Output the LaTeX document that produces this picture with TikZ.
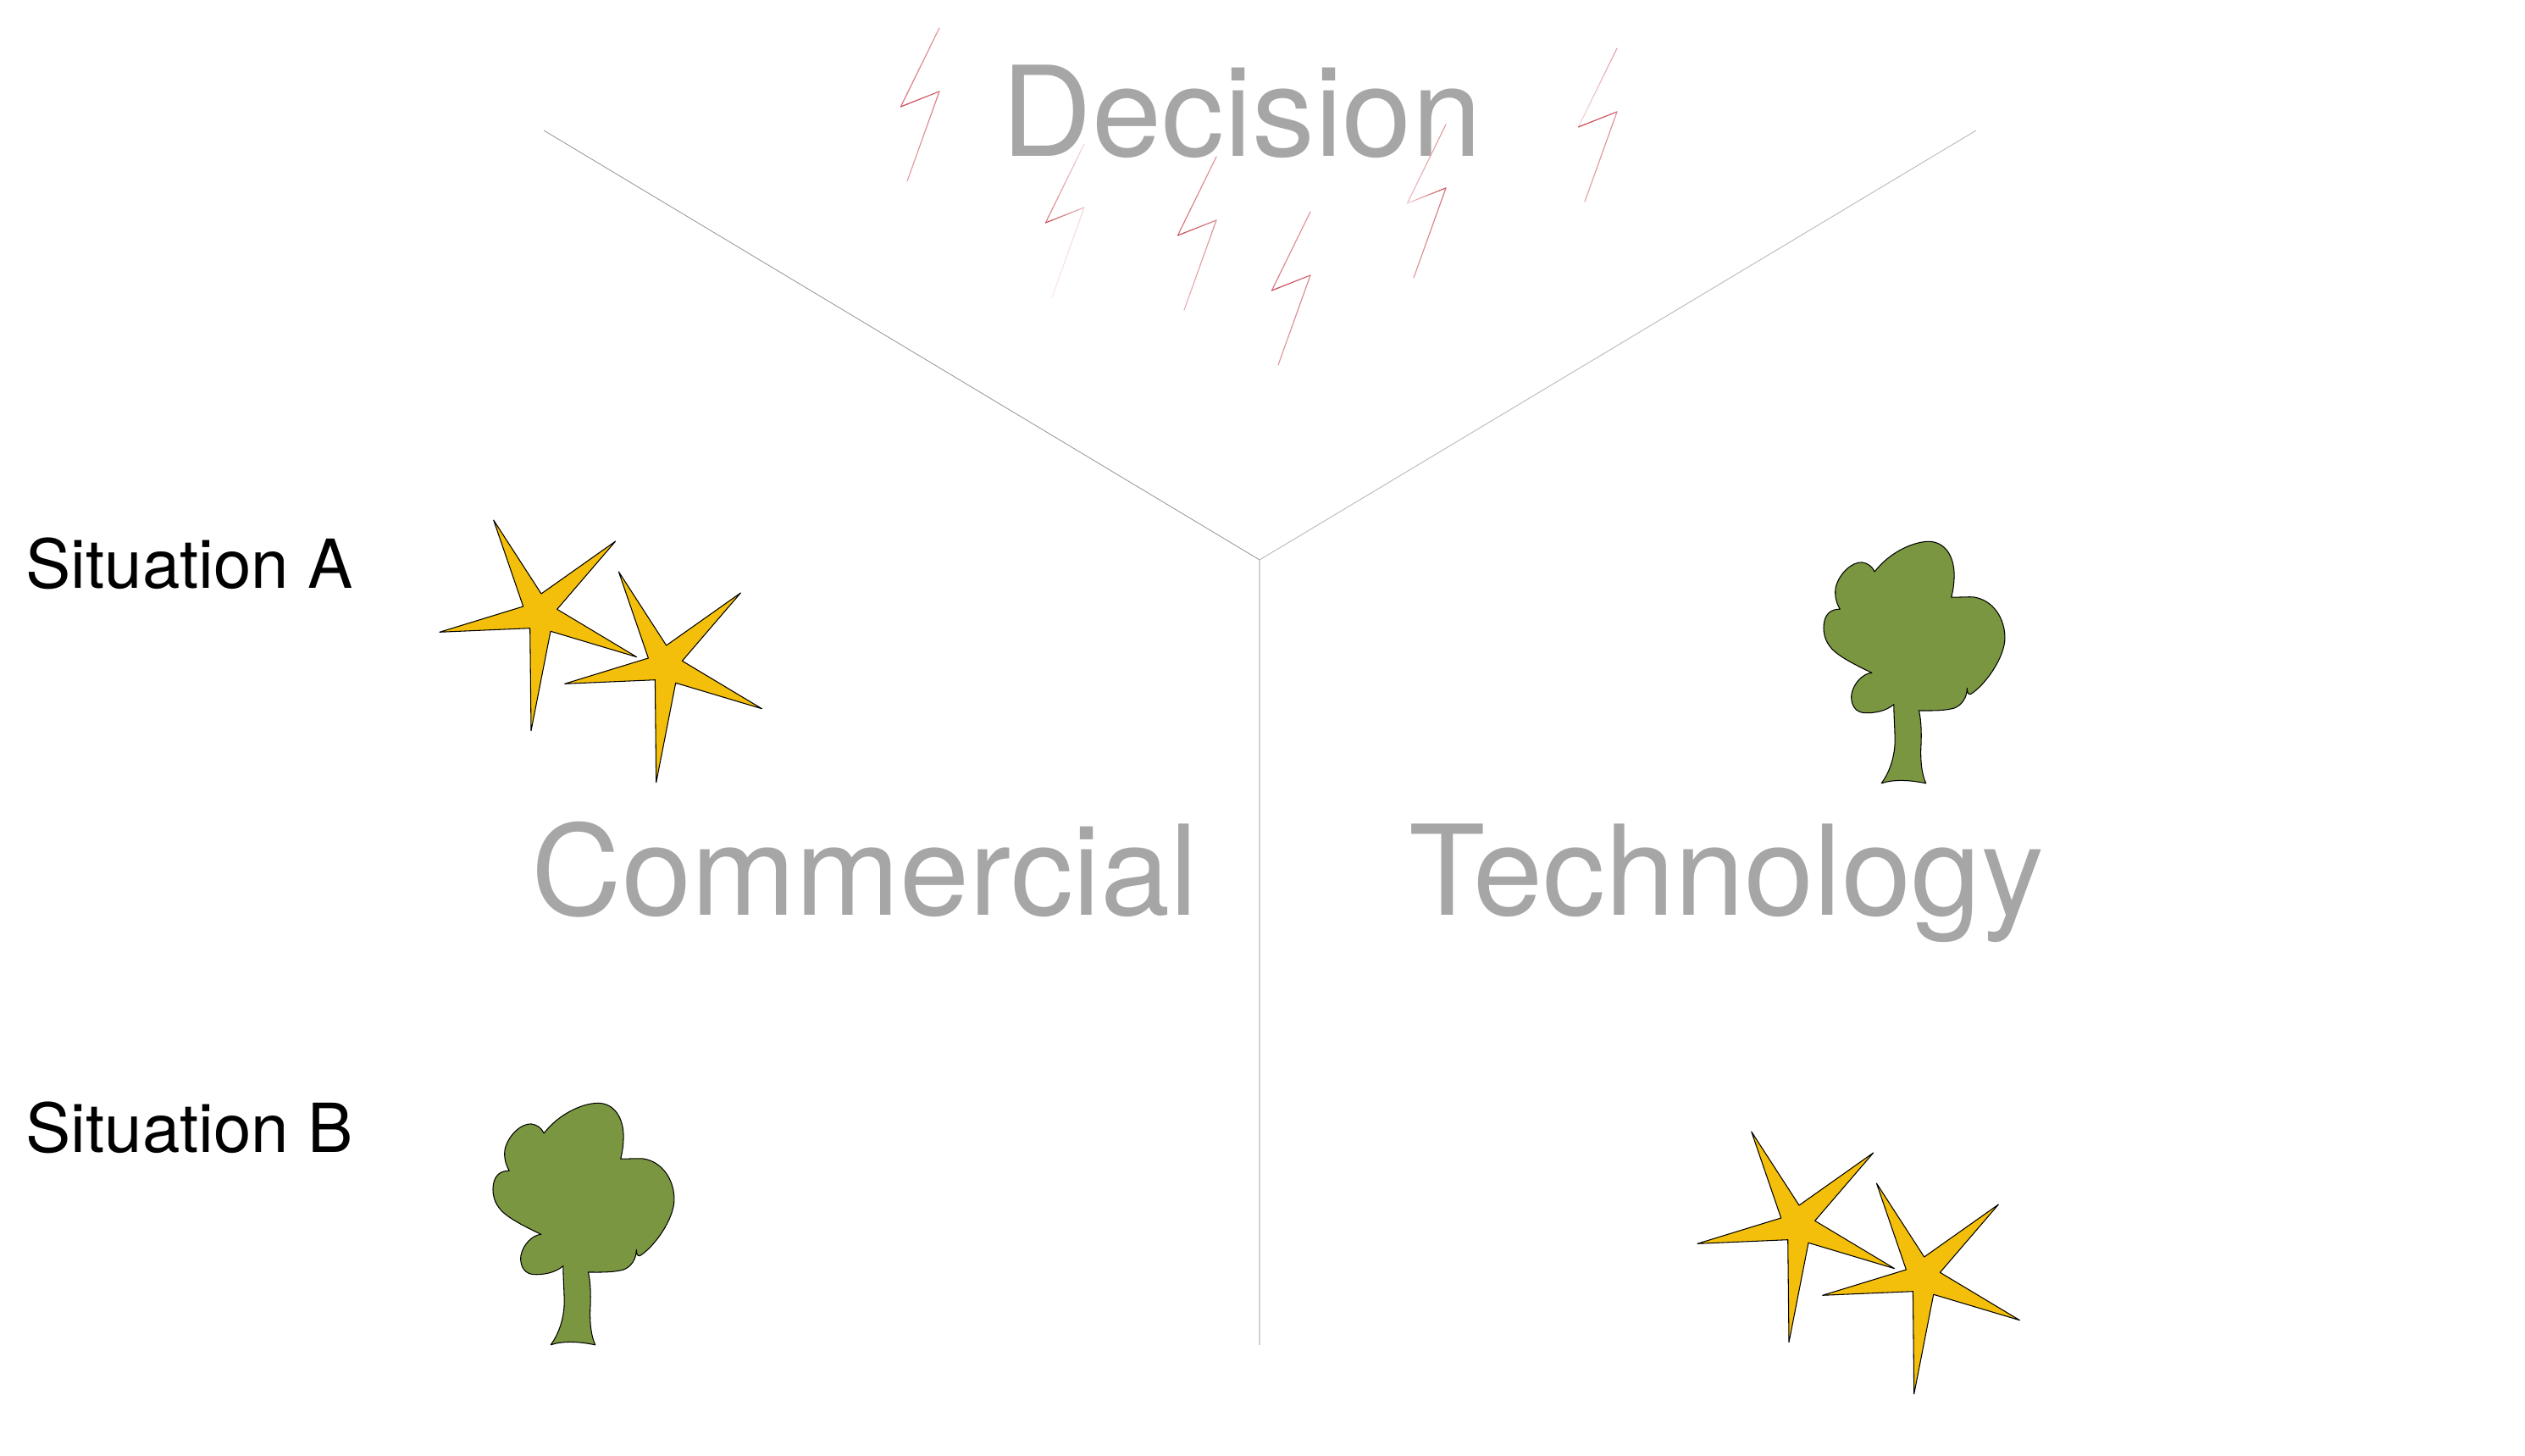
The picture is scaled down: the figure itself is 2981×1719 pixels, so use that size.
\documentclass[tikz,border=0pt]{standalone}
\usepackage{fontspec}
\setmainfont{TeX Gyre Heros}
\definecolor{titlegrey}{HTML}{A6A6A6}
\definecolor{starfill}{HTML}{F3BF0B}
\definecolor{treefill}{HTML}{7A9640}
\definecolor{boltbase}{HTML}{C8404C}
\tikzset{
  bigword/.style={text=titlegrey,font=\fontsize{42pt}{50pt}\selectfont,inner sep=0pt,anchor=base},
  sideword/.style={text=black,font=\fontsize{22.7pt}{26pt}\selectfont,inner sep=0pt,anchor=base west},
  axis/.style={line width=0.25pt,draw=black!40},
  axislight/.style={line width=0.5pt,draw=black!18},
  shapeline/.style={draw=black,line width=0.3pt,line join=round},
  boltline/.style={line width=0.32pt,line cap=round}
}
\newcommand{\starpath}[2]{%
  \draw[shapeline,fill=starfill] (#1+582.7,#2+614) -- (#1+639,#2+701) -- (#1+726.7,#2+639) -- (#1+657.7,#2+719.3) -- (#1+751.7,#2+775.7) -- (#1+650,#2+745.3) -- (#1+627,#2+862.7) -- (#1+625.7,#2+741.7) -- (#1+519,#2+746.3) -- (#1+617.7,#2+716) -- cycle;
}
\newcommand{\treeshape}[2]{%
  \begin{scope}[shift={(#1,#2)},x=0.003333cm,y=-0.003333cm]
  \draw[shapeline,fill=treefill] (250,165) .. controls (300,100) and (380,60) .. (440,58)
   .. controls (500,58) and (530,110) .. (532,170)
   .. controls (533,210) and (526,240) .. (522,256)
   .. controls (550,256) and (580,254) .. (600,255)
   .. controls (670,265) and (712,330) .. (712,400)
   .. controls (712,470) and (640,570) .. (590,600)
   .. controls (580,602) and (578,590) .. (578,578)
   .. controls (578,610) and (560,640) .. (530,650)
   .. controls (490,660) and (440,658) .. (407,658)
   .. controls (415,690) and (417,740) .. (414,790)
   .. controls (412,850) and (420,890) .. (432,916)
   .. controls (380,905) and (320,900) .. (274,916)
   .. controls (300,880) and (320,830) .. (322,770)
   .. controls (322,720) and (318,680) .. (318,636)
   .. controls (290,660) and (250,668) .. (210,666)
   .. controls (170,660) and (165,620) .. (168,600)
   .. controls (175,560) and (210,525) .. (240,524)
   .. controls (190,500) and (140,475) .. (110,450)
   .. controls (80,425) and (65,390) .. (70,350)
   .. controls (75,310) and (100,298) .. (127,298)
   .. controls (110,270) and (108,240) .. (112,220)
   .. controls (125,170) and (170,130) .. (205,132)
   .. controls (225,135) and (240,145) .. (250,165) -- cycle;
  \end{scope}
}
% stroke from (x1,y1) to (x2,y2) whose strength runs from p1 to p2 percent
\newcommand{\fadeseg}[6]{%
  \foreach \t in {0,...,11}{%
    \pgfmathsetmacro{\pp}{#5+(#6-#5)*(\t+0.5)/12}%
    \draw[boltline,draw=boltbase!\pp!white] ({(#1)+((#3)-(#1))*\t/12},{(#2)+((#4)-(#2))*\t/12}) -- ({(#1)+((#3)-(#1))*(\t+1)/12},{(#2)+((#4)-(#2))*(\t+1)/12});
  }%
}
% bolt: top x,y, then strengths at the ends of the three strokes
\newcommand{\boltshape}[8]{%
  \fadeseg{#1}{#2}{#1-45.6}{#2+93}{#3}{#4}%
  \fadeseg{#1-45.6}{#2+93}{#1}{#2+75}{#5}{#6}%
  \fadeseg{#1}{#2+75}{#1-38}{#2+181}{#7}{#8}%
}
\begin{document}
\begin{tikzpicture}[x=0.01cm,y=-0.01cm]
\useasboundingbox (0,0) rectangle (2981,1719);
\fill[white] (0,0) rectangle (2981,1719);
\coordinate (hub) at (1487,661);
\coordinate (leftend) at (642,154);
\coordinate (rightend) at (2333,154);
\coordinate (downend) at (1487,1588);
\draw[axis] (leftend) -- (hub);
\draw[axis,draw=black!28] (rightend) -- (hub);
\draw[axislight] (hub) -- (downend);
\node[bigword] (decision) at (1466,185) {Decision};
\node[bigword] (commercial) at (1021,1080) {Commercial};
\node[bigword] (technology) at (2038,1080) {Technology};
\node[sideword] (sita) at (30,695) {Situation A};
\node[sideword] (sitb) at (30,1360) {Situation B};
\boltshape{1109}{33}{55}{75}{100}{80}{70}{50}
\boltshape{1280}{170}{20}{70}{100}{35}{20}{12}
\boltshape{1436}{185}{55}{75}{100}{65}{60}{40}
\boltshape{1547}{250}{55}{70}{100}{80}{65}{55}
\boltshape{1707}{147}{55}{35}{20}{100}{75}{55}
\boltshape{1909}{57}{50}{20}{100}{85}{60}{50}
\starpath{0}{0}
\starpath{147.7}{61}
\treeshape{2130}{620}
\treeshape{559}{1283}
\starpath{1485}{722}
\starpath{1632.7}{783}
\end{tikzpicture}
\end{document}
